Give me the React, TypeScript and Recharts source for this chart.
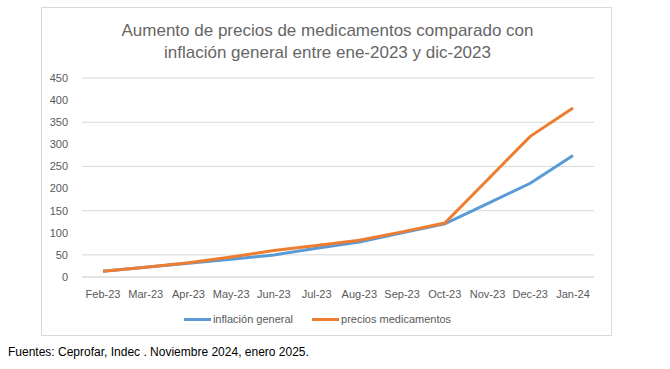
import { LineChart, Line, XAxis, YAxis, CartesianGrid, Legend } from 'recharts'

const months = ['Feb-23', 'Mar-23', 'Apr-23', 'May-23', 'Jun-23', 'Jul-23', 'Aug-23', 'Sep-23', 'Oct-23', 'Nov-23', 'Dec-23', 'Jan-24']
const inflacionGeneral = [13, 22, 31, 40, 50, 65, 79, 100, 120, 166, 212, 275]
const preciosMedicamentos = [13, 22, 32, 45, 60, 71, 83, 102, 122, 220, 318, 382]
const yTicks = [0, 50, 100, 150, 200, 250, 300, 350, 400, 450]

const data = months.map((m, i) => ({
  month: m,
  inflacion: inflacionGeneral[i],
  medicamentos: preciosMedicamentos[i],
}))

const FONT = '"Liberation Sans", Arial, sans-serif'
const BLUE = '#5b9bd5'
const ORANGE = '#ed7d31'

const LegendContent = () => (
  <div style={{ display: 'flex', justifyContent: 'center', alignItems: 'center', paddingTop: 6, fontFamily: FONT, fontSize: 11, color: '#595959' }}>
    <span style={{ display: 'inline-block', width: 27, height: 3, background: BLUE, marginRight: 2 }} />
    <span style={{ marginRight: 19 }}>inflación general</span>
    <span style={{ display: 'inline-block', width: 27, height: 3, background: ORANGE, marginRight: 2 }} />
    <span>precios medicamentos</span>
  </div>
)

export default function App() {
  return (
    <div style={{ position: 'absolute', left: 0, top: 0, width: 670, height: 369, background: '#fff', fontFamily: FONT }}>
      <div style={{ position: 'absolute', left: 41, top: 7, width: 571, height: 329, border: '1px solid #d9d9d9', boxSizing: 'border-box' }}>
        <div style={{ position: 'absolute', left: 0, top: 12, width: 571, textAlign: 'center', fontSize: 17, lineHeight: '22px', color: '#666' }}>
          Aumento de precios de medicamentos comparado con
          <br />
          inflación general entre ene-2023 y dic-2023
        </div>
        <div style={{ position: 'absolute', left: -1, top: -1 }}>
          <LineChart width={571} height={329} data={data} margin={{ top: 71, right: 18, left: 0, bottom: 0 }}>
            <CartesianGrid vertical={false} stroke="#d9d9d9" />
            <XAxis
              dataKey="month"
              height={30}
              tickLine={false}
              axisLine={{ stroke: '#d9d9d9' }}
              tick={{ fontSize: 11, fill: '#595959', fontFamily: FONT }}
              interval={0}
              tickMargin={7}
              padding={{ left: 21, right: 21 }}
            />
            <YAxis
              width={41}
              domain={[0, 450]}
              ticks={yTicks}
              tickLine={false}
              axisLine={false}
              tick={{ fontSize: 11, fill: '#595959', fontFamily: FONT }}
              tickMargin={8}
            />
            <Legend verticalAlign="bottom" height={29} content={<LegendContent />} />
            <Line type="linear" dataKey="inflacion" stroke={BLUE} strokeWidth={3} dot={false} isAnimationActive={false} />
            <Line type="linear" dataKey="medicamentos" stroke={ORANGE} strokeWidth={3} dot={false} isAnimationActive={false} />
          </LineChart>
        </div>
      </div>
      <div style={{ position: 'absolute', left: 8, top: 345, fontSize: 12, color: '#000' }}>
        Fuentes: Ceprofar, Indec . Noviembre 2024, enero 2025.
      </div>
    </div>
  )
}
